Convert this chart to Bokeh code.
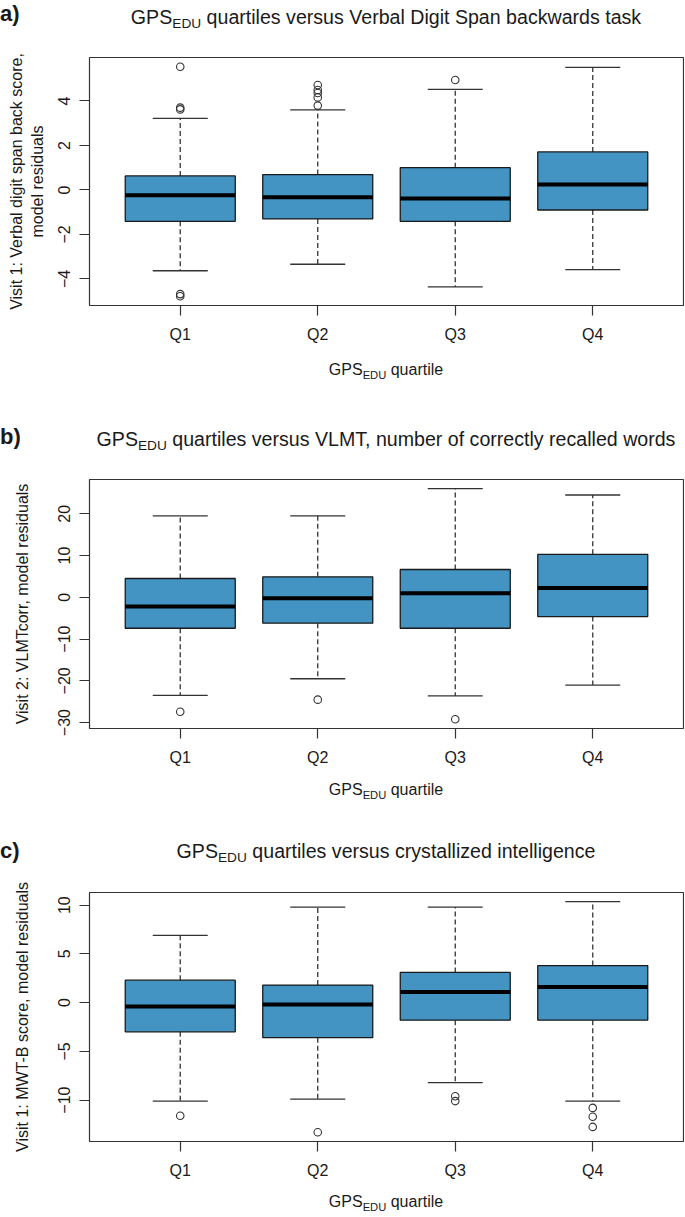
import math
from bokeh.plotting import figure
from bokeh.models import Range1d, FixedTicker, Div
from bokeh.layouts import column
from bokeh.embed import file_html
from bokeh.resources import INLINE

# ---------------- data ----------------
quartiles = ["Q1", "Q2", "Q3", "Q4"]
positions = [1, 2, 3, 4]

# a) Verbal Digit Span backwards
a_whisker_low = [-3.63, -3.34, -4.36, -3.58]
a_box_low = [-1.41, -1.30, -1.41, -0.90]
a_median = [-0.24, -0.33, -0.38, 0.25]
a_box_high = [0.63, 0.69, 1.00, 1.71]
a_whisker_high = [3.22, 3.60, 4.52, 5.51]
a_outliers = [[5.54, 3.70, 3.62, -4.68, -4.78],
              [4.72, 4.49, 4.36, 4.16, 3.79],
              [4.94],
              []]
a_yticks = [-4, -2, 0, 2, 4]

# b) VLMT correctly recalled words
b_whisker_low = [-23.5, -19.5, -23.6, -21.0]
b_box_low = [-7.4, -6.2, -7.4, -4.6]
b_median = [-2.2, -0.25, 0.96, 2.24]
b_box_high = [4.5, 4.9, 6.66, 10.3]
b_whisker_high = [19.5, 19.5, 26.0, 24.5]
b_outliers = [[-27.4], [-24.5], [-29.2], []]
b_yticks = [-30, -20, -10, 0, 10, 20]

# c) crystallized intelligence
c_whisker_low = [-10.1, -9.9, -8.2, -10.1]
c_box_low = [-3.0, -3.6, -1.8, -1.8]
c_median = [-0.4, -0.2, 1.1, 1.6]
c_box_high = [2.3, 1.8, 3.1, 3.8]
c_whisker_high = [6.9, 9.8, 9.8, 10.35]
c_outliers = [[-11.6], [-13.3], [-9.6, -10.1], [-10.8, -11.7, -12.75]]
c_yticks = [-10, -5, 0, 5, 10]

# ---------------- styling helpers ----------------
FONT = "Liberation Sans"
TXT = "#1a1a1a"
LINE = "#333333"
BOXFILL = "#4393c3"
W = 684
LEFT = 89
RIGHT = 1
FRAME_W = W - LEFT - RIGHT
MAIN_TOP = 20
MAIN_BOTTOM = 42


def sub_html(pre, sub, post, size):
    ss = round(size * 0.7, 1)
    shift = round(size * 0.22, 1)
    return (f'{pre}<span style="font-size:{ss}px;position:relative;top:{shift}px;">{sub}</span> {post}')


def text_div(h, items):
    """items: list of (left, width, centre_y, html, size, bold, align)"""
    parts = []
    for left, width, cy, html, size, bold, align in items:
        top = cy - size / 2
        weight = "bold" if bold else "normal"
        parts.append(
            f'<div style="position:absolute;left:{left}px;width:{width}px;top:{top:.1f}px;'
            f'height:{size}px;line-height:{size}px;font-size:{size}px;font-weight:{weight};'
            f'text-align:{align};white-space:nowrap;margin:0;padding:0;">{html}</div>')
    html = (f'<div style="position:relative;width:{W}px;height:{h}px;overflow:hidden;'
            f'font-family:\'{FONT}\',Arial,sans-serif;color:{TXT};margin:0;padding:0;">'
            + "".join(parts) + "</div>")
    return Div(text=html, width=W, height=h, margin=(0, 0, 0, 0))


def main_fig(frame_h, lo, hi, yticks, ylabel, ylabel_standoff):
    H = MAIN_TOP + frame_h + MAIN_BOTTOM
    p = figure(width=W, height=H, x_range=Range1d(0.34, 4.66), y_range=Range1d(lo, hi),
               output_backend="svg", toolbar_location=None,
               min_border_left=LEFT, min_border_right=RIGHT,
               min_border_top=MAIN_TOP, min_border_bottom=MAIN_BOTTOM)
    p.xgrid.visible = False
    p.ygrid.visible = False
    p.outline_line_color = LINE
    p.outline_line_width = 1.2
    p.background_fill_color = "white"
    p.border_fill_color = "white"
    p.xaxis.ticker = FixedTicker(ticks=positions)
    p.xaxis.major_label_overrides = {pos: q for pos, q in zip(positions, quartiles)}
    p.yaxis.ticker = FixedTicker(ticks=yticks)
    for ax in (p.xaxis, p.yaxis):
        ax.axis_line_color = None
        ax.major_tick_line_color = LINE
        ax.major_tick_line_width = 1.2
        ax.major_tick_out = 10
        ax.major_tick_in = 0
        ax.minor_tick_line_color = None
        ax.major_label_text_font = FONT
        ax.major_label_text_font_size = "16px"
        ax.major_label_text_color = TXT
    p.xaxis.major_label_standoff = 10
    p.yaxis.major_label_standoff = 9
    p.yaxis.major_label_orientation = "vertical"
    p.yaxis.axis_label = ylabel
    p.yaxis.axis_label_text_font = FONT
    p.yaxis.axis_label_text_font_size = "16px"
    p.yaxis.axis_label_text_font_style = "normal"
    p.yaxis.axis_label_text_color = TXT
    p.yaxis.axis_label_standoff = ylabel_standoff
    return p, H


def draw_boxes(p, wlo, blo, med, bhi, whi, outl):
    lefts = [x - 0.4 for x in positions]
    rights = [x + 0.4 for x in positions]
    cl = [x - 0.2 for x in positions]
    cr = [x + 0.2 for x in positions]
    p.segment(x0=positions, y0=bhi, x1=positions, y1=whi, line_color=LINE,
              line_width=1.3, line_dash="5 3")
    p.segment(x0=positions, y0=blo, x1=positions, y1=wlo, line_color=LINE,
              line_width=1.3, line_dash="5 3")
    p.segment(x0=cl, y0=whi, x1=cr, y1=whi, line_color=LINE, line_width=1.3)
    p.segment(x0=cl, y0=wlo, x1=cr, y1=wlo, line_color=LINE, line_width=1.3)
    p.quad(left=lefts, right=rights, bottom=blo, top=bhi, fill_color=BOXFILL,
           line_color="#1a1a1a", line_width=1.3)
    p.segment(x0=lefts, y0=med, x1=rights, y1=med, line_color="black", line_width=4)
    ox, oy = [], []
    for x, vals in zip(positions, outl):
        for v in vals:
            ox.append(x)
            oy.append(v)
    p.scatter(x=ox, y=oy, marker="circle", size=7.5, fill_color=None,
              line_color=LINE, line_width=1.1)


def yrange(*groups):
    vals = []
    for g in groups:
        for v in g:
            if isinstance(v, list):
                vals.extend(v)
            else:
                vals.append(v)
    lo, hi = min(vals), max(vals)
    pad = 0.04 * (hi - lo)
    return lo - pad, hi + pad


children = []


def panel(p_top, p_bot, frame_top, frame_h, letter, letter_y, title, title_y, xt_y,
          ylabel, ylabel_standoff, wlo, blo, med, bhi, whi, outl, yticks):
    lo, hi = yrange(wlo, whi, outl)
    main_top = frame_top - MAIN_TOP
    top_h = main_top - p_top
    main, main_h = main_fig(frame_h, lo, hi, yticks, ylabel, ylabel_standoff)
    main_bottom = main_top + main_h
    bot_h = p_bot - main_bottom
    draw_boxes(main, wlo, blo, med, bhi, whi, outl)

    top = text_div(top_h, [
        (0, 40, letter_y - p_top, letter, 22, True, "left"),
        (LEFT, FRAME_W, title_y - p_top, sub_html("GPS", "EDU", title, 19.6), 19.6, False, "center"),
    ])
    bot = text_div(bot_h, [
        (LEFT, FRAME_W, xt_y - main_bottom, sub_html("GPS", "EDU", "quartile", 16), 16, False, "center"),
    ])
    children.extend([top, main, bot])


panel(0, 415, 57, 248, "a)", 14, "quartiles versus Verbal Digit Span backwards task", 18,
      370, "Visit 1: Verbal digit span back score,\nmodel residuals", 10,
      a_whisker_low, a_box_low, a_median, a_box_high, a_whisker_high, a_outliers, a_yticks)
panel(415, 822, 479, 249, "b)", 437, "quartiles versus VLMT, number of correctly recalled words", 440,
      790, "Visit 2: VLMTcorr, model residuals", 25,
      b_whisker_low, b_box_low, b_median, b_box_high, b_whisker_high, b_outliers, b_yticks)
panel(822, 1216, 892, 249, "c)", 851, "quartiles versus crystallized intelligence", 852,
      1202, "Visit 1: MWT-B score, model residuals", 25,
      c_whisker_low, c_box_low, c_median, c_box_high, c_whisker_high, c_outliers, c_yticks)

layout = column(*children, spacing=0)
open("out.html", "w").write(file_html(layout, INLINE))
